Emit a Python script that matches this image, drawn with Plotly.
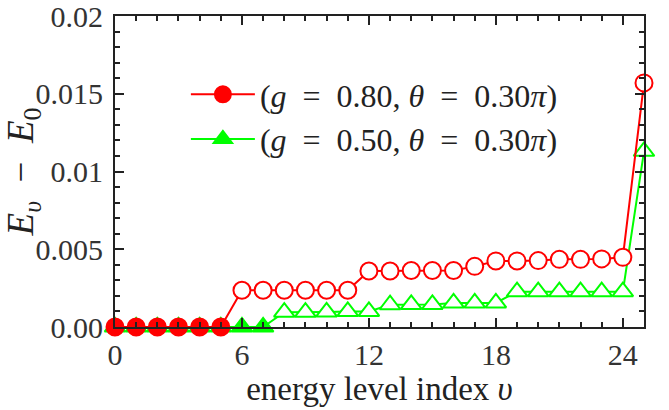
import plotly.graph_objects as go

levels = list(range(26))
red_vals = [0, 0, 0, 0, 0, 0,
            0.00236, 0.00236, 0.00236, 0.00236, 0.00236, 0.00236,
            0.0036, 0.0036, 0.00363, 0.00363, 0.00363, 0.0039,
            0.00425, 0.00425, 0.00427, 0.00435, 0.00435, 0.00438,
            0.00448, 0.0157]
red_filled = 6
green_vals = [0, 0, 0, 0, 0, 0, 0, 0,
              0.00095, 0.00095, 0.00097, 0.001, 0.001,
              0.00143, 0.00145, 0.00145, 0.00155, 0.00155, 0.00155,
              0.00227, 0.00227, 0.00227, 0.00227, 0.00227, 0.00227,
              0.0113]
green_filled = 8
SP = "\u2002"
red_name = f"(<i>g</i>{SP}={SP}0.80, <i>θ</i>{SP}={SP}0.30<i>π</i>)"
green_name = f"(<i>g</i>{SP}={SP}0.50, <i>θ</i>{SP}={SP}0.30<i>π</i>)"
ytick_vals = [0, 0.005, 0.01, 0.015, 0.02]
ytick_text = ["0.00", "0.005", "0.01", "0.015", "0.02"]
xtick_vals = [0, 6, 12, 18, 24]

RED = "#ff0000"
GREEN = "#00ff00"
FONT = "Liberation Serif"

fig = go.Figure()
fig.add_trace(go.Scatter(
    x=levels, y=green_vals, name=green_name, mode="lines+markers",
    line=dict(color=GREEN, width=2),
    marker=dict(symbol="triangle-up", size=18,
                color=[GREEN if i < green_filled else "white" for i in levels],
                line=dict(color=GREEN, width=2)),
    legendrank=2, cliponaxis=False,
))
fig.add_trace(go.Scatter(
    x=levels, y=red_vals, name=red_name, mode="lines+markers",
    line=dict(color=RED, width=2),
    marker=dict(symbol="circle", size=17,
                color=[RED if i < red_filled else "white" for i in levels],
                line=dict(color=RED, width=2)),
    legendrank=1, cliponaxis=False,
))

axis_common = dict(
    showline=True, linecolor="#222", linewidth=2, mirror="ticks",
    ticks="inside", tickcolor="#222", tickwidth=2, ticklen=9,
    showgrid=False, zeroline=False, automargin=False,
    ticklabeloverflow="allow",
    tickfont=dict(family=FONT, size=30, color="#333"),
)
fig.update_xaxes(
    range=[0, 25], tickvals=xtick_vals,
    minor=dict(dtick=1, tick0=0, ticks="inside", ticklen=5, tickwidth=1.5, tickcolor="#222"),
    title=dict(text="energy level index <i>υ</i>", font=dict(family=FONT, size=33, color="#222"), standoff=0),
    **axis_common,
)
fig.update_yaxes(
    range=[0, 0.020001], tickvals=ytick_vals, ticktext=ytick_text,
    minor=dict(dtick=0.001, tick0=0, ticks="inside", ticklen=5, tickwidth=1.5, tickcolor="#222"),
    title=dict(text=f"<i>E</i><sub><i>υ</i></sub>{SP}−{SP}<i>E</i><sub>0</sub>{SP}{SP}",
               font=dict(family=FONT, size=37, color="#222"), standoff=8),
    ticklabelstandoff=4,
    **axis_common,
)
fig.update_layout(
    width=669, height=410,
    margin=dict(l=115, r=25, t=16, b=83),
    paper_bgcolor="white", plot_bgcolor="white",
    showlegend=True,
    legend=dict(x=0.134, y=0.836, xanchor="left", yanchor="top",
                bgcolor="rgba(0,0,0,0)", font=dict(family=FONT, size=32, color="#222"),
                itemwidth=64, tracegroupgap=0),
)
fig.write_html("out.html", config={"displayModeBar": False},
               post_script="document.body.style.margin='0';")
